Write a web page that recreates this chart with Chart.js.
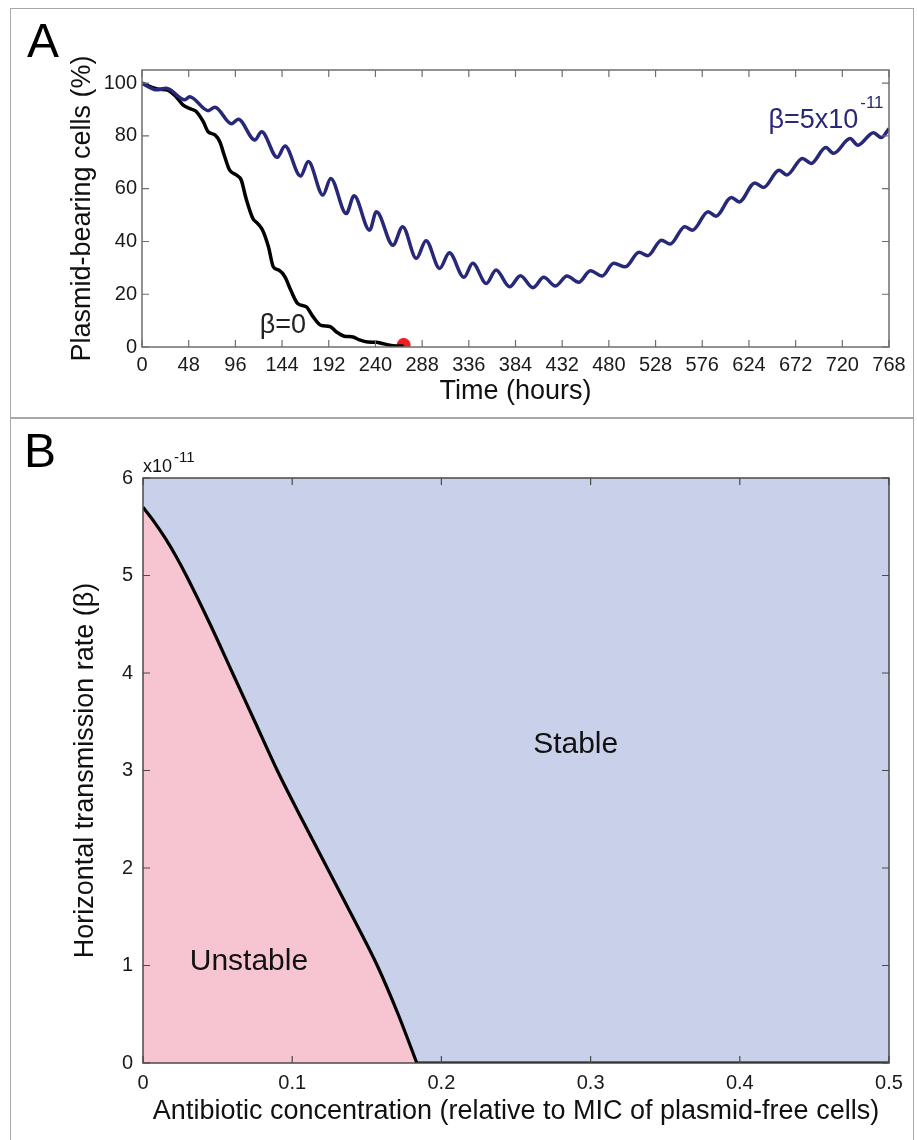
<!DOCTYPE html>
<html>
<head>
<meta charset="utf-8">
<script src="https://cdn.jsdelivr.net/npm/chart.js@4.4.1/dist/chart.umd.min.js"></script>
<style>
  html, body { margin: 0; padding: 0; background: #fff; }
  body { width: 917px; height: 1140px; position: relative; overflow: hidden; }
  .frame { position: absolute; left: 10px; width: 904px; border: 1.5px solid #a8a8a8; box-sizing: border-box; }
  #frameA { top: 8px; height: 411px; }
  #frameB { top: 417px; height: 730px; }
  .wrap { position: absolute; left: 10px; }
  #wrapA { top: 8px; }
  #wrapB { top: 417px; }
</style>
</head>
<body>
<div class="frame" id="frameA"></div>
<div class="frame" id="frameB"></div>
<div class="wrap" id="wrapA"><canvas id="chartA" width="903" height="409"></canvas></div>
<div class="wrap" id="wrapB"><canvas id="chartB" width="903" height="723"></canvas></div>
<script>
// Panel A: plasmid-bearing cells over time
const hourTicks = [0, 48, 96, 144, 192, 240, 288, 336, 384, 432, 480, 528, 576, 624, 672, 720, 768];
const percentTicks = [0, 20, 40, 60, 80, 100];

// beta = 5x10^-11 (blue)
const blueHours = [0, 15, 25, 44, 49, 68, 75, 92, 99, 116, 123, 139, 147, 163, 171, 186, 194, 210, 218, 234,
  241, 258, 268, 282, 292, 306, 316, 331, 340, 354, 364, 378, 389, 402, 413, 425, 437, 449, 461, 473,
  485, 497, 511, 520, 534, 543, 558, 566, 582, 590, 606, 614, 630, 639, 655, 663, 679, 688, 703, 711,
  728, 736, 752, 760, 768];
const blueValues = [100, 97.5, 98.1, 93.7, 94.9, 89.6, 90.9, 84.6, 86.3, 78.5, 81.6, 71.9, 76.2, 64.8, 70.3, 57.6, 63.9, 50.6, 57.3, 44.3,
  51.3, 38.6, 45.6, 33.6, 40.3, 29.8, 35.7, 26.4, 31.7, 24.1, 29.2, 22.8, 27.0, 22.5, 26.4, 23.1, 26.9, 24.5, 28.9, 26.9,
  31.7, 30.4, 35.9, 34.6, 40.5, 39.0, 45.6, 44.3, 51.3, 49.6, 56.7, 55.0, 62.2, 60.5, 67.0, 65.2, 71.5, 69.6, 75.6, 73.4,
  79.0, 76.5, 81.2, 79.4, 82.8];

// beta = 0 (black)
const blackHours = [0, 18, 25, 35, 42, 51, 56, 63, 68, 75, 80, 85, 90, 97, 102, 107, 114, 119, 124, 130,
  135, 141, 147, 153, 160, 169, 176, 184, 193, 200, 208, 217, 223, 232, 241, 247, 258, 269];
const blackValues = [100, 97.7, 97.5, 94.9, 91.8, 90.1, 89.2, 85.4, 81.6, 80.4, 77.8, 72.2, 67.1, 65.2, 63.3, 56.3, 48.7, 46.8, 44.3, 38,
  30.4, 29.1, 26.6, 21.5, 16.5, 15.2, 11.4, 8.2, 7.8, 5.7, 4.1, 3.8, 2.8, 1.9, 1.8, 1.3, 0.5, 0.3];

// plasmid loss point (red dot)
const lossHour = [269];
const lossValue = [0.8];

// Panel B: stability boundary
const concTicks = [0, 0.1, 0.2, 0.3, 0.4, 0.5];
const betaTicks = [0, 1, 2, 3, 4, 5, 6];
const concentration = [0, 0.0075, 0.015, 0.022, 0.029, 0.045, 0.06, 0.075, 0.09, 0.1065, 0.1235, 0.1405, 0.157, 0.171, 0.1835];
const betaBoundary = [5.7, 5.55, 5.38, 5.2, 5.0, 4.5, 4.0, 3.5, 3.0, 2.5, 2.0, 1.5, 1.0, 0.5, 0];
// 경계선이 바닥을 따라 이어지는 부분
const floorConc = [0.1835, 0.5];
const floorBeta = [0, 0];

const FONT = "'Liberation Sans', Arial, sans-serif";
const toPoints = (xs, ys) => xs.map((x, i) => ({ x: x, y: ys[i] }));

// MATLAB 느낌의 박스 + 안쪽 눈금, 배경색, 글자 넣기
const boxPlugin = {
  id: "box",
  beforeDatasetsDraw(chart, args, opts) {
    if (!opts.fill) return;
    const a = chart.chartArea;
    chart.ctx.save();
    chart.ctx.fillStyle = opts.fill;
    chart.ctx.fillRect(a.left, a.top, a.width, a.height);
    chart.ctx.restore();
  },
  afterDatasetsDraw(chart, args, opts) {
    const { ctx, chartArea: a, scales } = chart;
    const x = scales.x, y = scales.y;
    const len = opts.tickLength || 7;
    ctx.save();
    ctx.strokeStyle = opts.color;
    ctx.lineWidth = 1.2;
    ctx.beginPath();
    x.ticks.forEach((t) => {
      const px = x.getPixelForValue(t.value);
      ctx.moveTo(px, a.bottom); ctx.lineTo(px, a.bottom - len);
      ctx.moveTo(px, a.top); ctx.lineTo(px, a.top + len);
    });
    y.ticks.forEach((t) => {
      const py = y.getPixelForValue(t.value);
      ctx.moveTo(a.left, py); ctx.lineTo(a.left + len, py);
      ctx.moveTo(a.right, py); ctx.lineTo(a.right - len, py);
    });
    ctx.stroke();
    ctx.lineWidth = 1.5;
    ctx.strokeRect(a.left, a.top, a.width, a.height);

    // 패널 글자
    ctx.fillStyle = "#000";
    ctx.font = "48px " + FONT;
    ctx.textAlign = "left";
    ctx.textBaseline = "alphabetic";
    ctx.fillText(opts.letter.text, opts.letter.x, opts.letter.y);

    (opts.labels || []).forEach((l) => {
      const px = x.getPixelForValue(l.x);
      const py = y.getPixelForValue(l.y);
      ctx.fillStyle = l.color;
      ctx.font = l.size + "px " + FONT;
      ctx.textAlign = l.align || "left";
      ctx.textBaseline = l.baseline || "alphabetic";
      ctx.fillText(l.text, px, py);
      if (l.sup) {
        const w = ctx.measureText(l.text).width;
        ctx.font = l.supSize + "px " + FONT;
        ctx.textAlign = "left";
        ctx.textBaseline = "alphabetic";
        ctx.fillText(l.sup, px + w + 2, py - l.supRise);
      }
    });

    if (opts.exponent) {
      ctx.fillStyle = "#111";
      ctx.font = "18px " + FONT;
      ctx.textAlign = "left";
      ctx.textBaseline = "alphabetic";
      ctx.fillText("x10", a.left, a.top - 6);
      const w = ctx.measureText("x10").width;
      ctx.font = "15px " + FONT;
      ctx.fillText("-11", a.left + w + 2, a.top - 16);
    }
    ctx.restore();
  },
};

const tickFont = { family: FONT, size: 20 };
const titleFont = { family: FONT, size: 27 };

// 패널 A
new Chart(document.getElementById("chartA").getContext("2d"), {
  type: "line",
  data: {
    datasets: [
      {
        label: "β=5x10^-11",
        data: toPoints(blueHours, blueValues),
        borderColor: "#28287a",
        borderWidth: 3.5,
        pointRadius: 0,
        cubicInterpolationMode: "monotone",
      },
      {
        label: "β=0",
        data: toPoints(blackHours, blackValues),
        borderColor: "#000",
        borderWidth: 3.5,
        pointRadius: 0,
        cubicInterpolationMode: "monotone",
      },
      {
        label: "loss",
        data: toPoints(lossHour, lossValue),
        showLine: false,
        pointRadius: 6.5,
        pointBackgroundColor: "#ee1c25",
        pointBorderColor: "#ee1c25",
      },
    ],
  },
  options: {
    responsive: false,
    animation: false,
    layout: { padding: { top: 62, right: 24, left: 0, bottom: 0 } },
    plugins: {
      legend: { display: false },
      tooltip: { enabled: false },
      box: {
        color: "#6e6e6e",
        tickLength: 7,
        letter: { text: "A", x: 17, y: 49 },
        labels: [
          { text: "β=0", x: 121, y: 5.3, size: 27, color: "#222" },
          { text: "β=5x10", x: 644, y: 83, size: 27, color: "#28287a", sup: "-11", supSize: 17, supRise: 20 },
        ],
      },
    },
    scales: {
      x: {
        type: "linear",
        min: 0,
        max: 768,
        afterBuildTicks: (s) => { s.ticks = hourTicks.map((v) => ({ value: v })); },
        afterFit: (s) => { s.height = 70; },
        grid: { display: false, drawTicks: false },
        border: { display: false },
        ticks: { font: tickFont, color: "#1a1a1a", padding: 6, maxRotation: 0, autoSkip: false },
        title: { display: true, text: "Time (hours)", font: titleFont, color: "#111", padding: { top: 0, bottom: 9 } },
      },
      y: {
        min: 0,
        max: 105,
        afterBuildTicks: (s) => { s.ticks = percentTicks.map((v) => ({ value: v })); },
        afterFit: (s) => { s.width = 132; },
        grid: { display: false, drawTicks: false },
        border: { display: false },
        ticks: { font: tickFont, color: "#1a1a1a", padding: 5 },
        title: { display: true, text: "Plasmid-bearing cells (%)", font: titleFont, color: "#111", padding: { top: 56, bottom: 0 } },
      },
    },
  },
  plugins: [boxPlugin],
});

// 패널 B
new Chart(document.getElementById("chartB").getContext("2d"), {
  type: "line",
  data: {
    datasets: [
      {
        label: "boundary",
        data: toPoints(concentration, betaBoundary),
        borderColor: "#000",
        borderWidth: 3.2,
        pointRadius: 0,
        fill: "origin",
        backgroundColor: "#f7c5d1",
        cubicInterpolationMode: "monotone",
      },
      {
        label: "floor",
        data: toPoints(floorConc, floorBeta),
        borderColor: "#000",
        borderWidth: 3.2,
        pointRadius: 0,
        fill: false,
      },
    ],
  },
  options: {
    responsive: false,
    animation: false,
    layout: { padding: { top: 61, right: 24, left: 0, bottom: 0 } },
    plugins: {
      legend: { display: false },
      tooltip: { enabled: false },
      box: {
        fill: "#c8d0ea",
        color: "#4a4a4a",
        tickLength: 7,
        exponent: true,
        letter: { text: "B", x: 14, y: 50 },
        labels: [
          { text: "Stable", x: 0.29, y: 3.26, size: 30, color: "#111", align: "center", baseline: "middle" },
          { text: "Unstable", x: 0.071, y: 1.04, size: 30, color: "#111", align: "center", baseline: "middle" },
        ],
      },
    },
    scales: {
      x: {
        type: "linear",
        min: 0,
        max: 0.5,
        afterBuildTicks: (s) => { s.ticks = concTicks.map((v) => ({ value: v })); },
        afterFit: (s) => { s.height = 77; },
        grid: { display: false, drawTicks: false },
        border: { display: false },
        ticks: { font: tickFont, color: "#1a1a1a", padding: 8, maxRotation: 0, autoSkip: false },
        title: {
          display: true,
          text: "Antibiotic concentration (relative to MIC of plasmid-free cells)",
          font: titleFont,
          color: "#111",
          padding: { top: 0, bottom: 12 },
        },
      },
      y: {
        min: 0,
        max: 6,
        afterBuildTicks: (s) => { s.ticks = betaTicks.map((v) => ({ value: v })); },
        afterFit: (s) => { s.width = 133; },
        grid: { display: false, drawTicks: false },
        border: { display: false },
        ticks: { font: tickFont, color: "#1a1a1a", padding: 10 },
        title: { display: true, text: "Horizontal transmission rate (β)", font: titleFont, color: "#111", padding: { top: 59, bottom: 0 } },
      },
    },
  },
  plugins: [boxPlugin],
});
</script>
</body>
</html>
